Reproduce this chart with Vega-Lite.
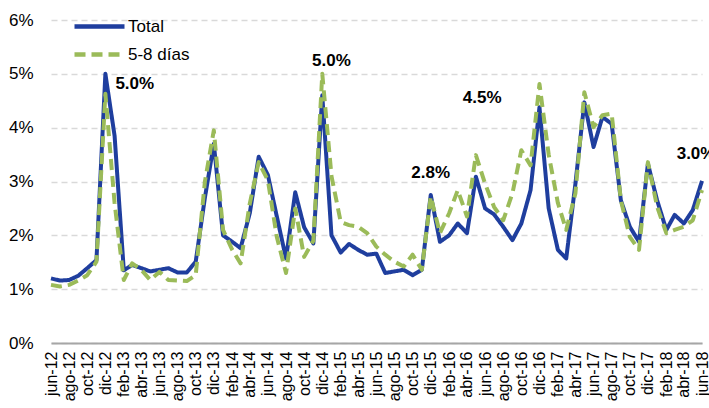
{
  "$schema": "https://vega.github.io/schema/vega-lite/v6.json",
  "autosize": {"type": "none"},
  "width": 651,
  "height": 323,
  "padding": {"left": 51, "top": 20, "right": 7, "bottom": 65},
  "background": "white",
  "config": {
    "font": "Liberation Sans",
    "view": {"stroke": null},
    "axis": {"labelFont": "Liberation Sans", "labelColor": "#000000"},
    "axisX": {"labelOverlap": false, "labelSeparation": 0}
  },
  "datasets": {
    "series": [
      {"m":"2012-06-01","s":"Total","v":1.20},{"m":"2012-07-01","s":"Total","v":1.16},{"m":"2012-08-01","s":"Total","v":1.17},{"m":"2012-09-01","s":"Total","v":1.25},{"m":"2012-10-01","s":"Total","v":1.39},{"m":"2012-11-01","s":"Total","v":1.54},{"m":"2012-12-01","s":"Total","v":5.00},
      {"m":"2013-01-01","s":"Total","v":3.85},{"m":"2013-02-01","s":"Total","v":1.35},{"m":"2013-03-01","s":"Total","v":1.45},{"m":"2013-04-01","s":"Total","v":1.39},{"m":"2013-05-01","s":"Total","v":1.33},{"m":"2013-06-01","s":"Total","v":1.36},{"m":"2013-07-01","s":"Total","v":1.39},{"m":"2013-08-01","s":"Total","v":1.31},{"m":"2013-09-01","s":"Total","v":1.31},{"m":"2013-10-01","s":"Total","v":1.51},{"m":"2013-11-01","s":"Total","v":2.70},{"m":"2013-12-01","s":"Total","v":3.70},
      {"m":"2014-01-01","s":"Total","v":2.00},{"m":"2014-02-01","s":"Total","v":1.88},{"m":"2014-03-01","s":"Total","v":1.76},{"m":"2014-04-01","s":"Total","v":2.41},{"m":"2014-05-01","s":"Total","v":3.46},{"m":"2014-06-01","s":"Total","v":3.12},{"m":"2014-07-01","s":"Total","v":2.35},{"m":"2014-08-01","s":"Total","v":1.57},{"m":"2014-09-01","s":"Total","v":2.80},{"m":"2014-10-01","s":"Total","v":2.15},{"m":"2014-11-01","s":"Total","v":1.85},{"m":"2014-12-01","s":"Total","v":4.60},
      {"m":"2015-01-01","s":"Total","v":2.00},{"m":"2015-02-01","s":"Total","v":1.68},{"m":"2015-03-01","s":"Total","v":1.84},{"m":"2015-04-01","s":"Total","v":1.73},{"m":"2015-05-01","s":"Total","v":1.64},{"m":"2015-06-01","s":"Total","v":1.66},{"m":"2015-07-01","s":"Total","v":1.30},{"m":"2015-08-01","s":"Total","v":1.33},{"m":"2015-09-01","s":"Total","v":1.36},{"m":"2015-10-01","s":"Total","v":1.26},{"m":"2015-11-01","s":"Total","v":1.36},{"m":"2015-12-01","s":"Total","v":2.75},
      {"m":"2016-01-01","s":"Total","v":1.88},{"m":"2016-02-01","s":"Total","v":2.00},{"m":"2016-03-01","s":"Total","v":2.22},{"m":"2016-04-01","s":"Total","v":2.04},{"m":"2016-05-01","s":"Total","v":3.09},{"m":"2016-06-01","s":"Total","v":2.50},{"m":"2016-07-01","s":"Total","v":2.39},{"m":"2016-08-01","s":"Total","v":2.16},{"m":"2016-09-01","s":"Total","v":1.91},{"m":"2016-10-01","s":"Total","v":2.22},{"m":"2016-11-01","s":"Total","v":2.84},{"m":"2016-12-01","s":"Total","v":4.38},
      {"m":"2017-01-01","s":"Total","v":2.50},{"m":"2017-02-01","s":"Total","v":1.73},{"m":"2017-03-01","s":"Total","v":1.57},{"m":"2017-04-01","s":"Total","v":2.96},{"m":"2017-05-01","s":"Total","v":4.47},{"m":"2017-06-01","s":"Total","v":3.64},{"m":"2017-07-01","s":"Total","v":4.20},{"m":"2017-08-01","s":"Total","v":4.07},{"m":"2017-09-01","s":"Total","v":2.65},{"m":"2017-10-01","s":"Total","v":2.16},{"m":"2017-11-01","s":"Total","v":1.88},{"m":"2017-12-01","s":"Total","v":3.33},
      {"m":"2018-01-01","s":"Total","v":2.65},{"m":"2018-02-01","s":"Total","v":2.10},{"m":"2018-03-01","s":"Total","v":2.38},{"m":"2018-04-01","s":"Total","v":2.22},{"m":"2018-05-01","s":"Total","v":2.47},{"m":"2018-06-01","s":"Total","v":3.01},

      {"m":"2012-06-01","s":"5-8 días","v":1.08},{"m":"2012-07-01","s":"5-8 días","v":1.05},{"m":"2012-08-01","s":"5-8 días","v":1.08},{"m":"2012-09-01","s":"5-8 días","v":1.16},{"m":"2012-10-01","s":"5-8 días","v":1.26},{"m":"2012-11-01","s":"5-8 días","v":1.51},{"m":"2012-12-01","s":"5-8 días","v":4.63},
      {"m":"2013-01-01","s":"5-8 días","v":2.60},{"m":"2013-02-01","s":"5-8 días","v":1.17},{"m":"2013-03-01","s":"5-8 días","v":1.48},{"m":"2013-04-01","s":"5-8 días","v":1.36},{"m":"2013-05-01","s":"5-8 días","v":1.17},{"m":"2013-06-01","s":"5-8 días","v":1.32},{"m":"2013-07-01","s":"5-8 días","v":1.17},{"m":"2013-08-01","s":"5-8 días","v":1.16},{"m":"2013-09-01","s":"5-8 días","v":1.15},{"m":"2013-10-01","s":"5-8 días","v":1.26},{"m":"2013-11-01","s":"5-8 días","v":3.00},{"m":"2013-12-01","s":"5-8 días","v":3.95},
      {"m":"2014-01-01","s":"5-8 días","v":2.10},{"m":"2014-02-01","s":"5-8 días","v":1.73},{"m":"2014-03-01","s":"5-8 días","v":1.48},{"m":"2014-04-01","s":"5-8 días","v":2.59},{"m":"2014-05-01","s":"5-8 días","v":3.36},{"m":"2014-06-01","s":"5-8 días","v":3.02},{"m":"2014-07-01","s":"5-8 días","v":1.97},{"m":"2014-08-01","s":"5-8 días","v":1.30},{"m":"2014-09-01","s":"5-8 días","v":2.50},{"m":"2014-10-01","s":"5-8 días","v":1.60},{"m":"2014-11-01","s":"5-8 días","v":1.90},{"m":"2014-12-01","s":"5-8 días","v":5.00},
      {"m":"2015-01-01","s":"5-8 días","v":3.10},{"m":"2015-02-01","s":"5-8 días","v":2.25},{"m":"2015-03-01","s":"5-8 días","v":2.19},{"m":"2015-04-01","s":"5-8 días","v":2.16},{"m":"2015-05-01","s":"5-8 días","v":2.04},{"m":"2015-06-01","s":"5-8 días","v":1.79},{"m":"2015-07-01","s":"5-8 días","v":1.64},{"m":"2015-08-01","s":"5-8 días","v":1.51},{"m":"2015-09-01","s":"5-8 días","v":1.42},{"m":"2015-10-01","s":"5-8 días","v":1.64},{"m":"2015-11-01","s":"5-8 días","v":1.36},{"m":"2015-12-01","s":"5-8 días","v":2.72},
      {"m":"2016-01-01","s":"5-8 días","v":2.04},{"m":"2016-02-01","s":"5-8 días","v":2.41},{"m":"2016-03-01","s":"5-8 días","v":2.84},{"m":"2016-04-01","s":"5-8 días","v":2.35},{"m":"2016-05-01","s":"5-8 días","v":3.49},{"m":"2016-06-01","s":"5-8 días","v":2.96},{"m":"2016-07-01","s":"5-8 días","v":2.53},{"m":"2016-08-01","s":"5-8 días","v":2.28},{"m":"2016-09-01","s":"5-8 días","v":2.78},{"m":"2016-10-01","s":"5-8 días","v":3.58},{"m":"2016-11-01","s":"5-8 días","v":3.30},{"m":"2016-12-01","s":"5-8 días","v":4.81},
      {"m":"2017-01-01","s":"5-8 días","v":3.50},{"m":"2017-02-01","s":"5-8 días","v":2.60},{"m":"2017-03-01","s":"5-8 días","v":2.10},{"m":"2017-04-01","s":"5-8 días","v":2.78},{"m":"2017-05-01","s":"5-8 días","v":4.66},{"m":"2017-06-01","s":"5-8 días","v":4.01},{"m":"2017-07-01","s":"5-8 días","v":4.23},{"m":"2017-08-01","s":"5-8 días","v":4.26},{"m":"2017-09-01","s":"5-8 días","v":2.65},{"m":"2017-10-01","s":"5-8 días","v":1.97},{"m":"2017-11-01","s":"5-8 días","v":1.73},{"m":"2017-12-01","s":"5-8 días","v":3.36},
      {"m":"2018-01-01","s":"5-8 días","v":2.53},{"m":"2018-02-01","s":"5-8 días","v":2.04},{"m":"2018-03-01","s":"5-8 días","v":2.10},{"m":"2018-04-01","s":"5-8 días","v":2.16},{"m":"2018-05-01","s":"5-8 días","v":2.28},{"m":"2018-06-01","s":"5-8 días","v":2.84}
    ],
    "notes": [
      {"m":"2013-03-10","v":4.82,"label":"5.0%"},
      {"m":"2015-01-01","v":5.24,"label":"5.0%"},
      {"m":"2015-12-01","v":3.15,"label":"2.8%"},
      {"m":"2016-05-22","v":4.55,"label":"4.5%"},
      {"m":"2018-05-12","v":3.52,"label":"3.0%"}
    ]
  },
  "encoding": {
    "x": {
      "field": "m", "type": "temporal",
      "scale": {"type": "utc", "nice": false, "domain": [{"year": 2012, "month": 6, "date": 1, "utc": true}, {"year": 2018, "month": 6, "date": 1, "utc": true}]},
      "axis": {
        "title": null,
        "values": [
          {"year":2012,"month":6,"date":1,"utc":true},{"year":2012,"month":8,"date":1,"utc":true},{"year":2012,"month":10,"date":1,"utc":true},{"year":2012,"month":12,"date":1,"utc":true},
          {"year":2013,"month":2,"date":1,"utc":true},{"year":2013,"month":4,"date":1,"utc":true},{"year":2013,"month":6,"date":1,"utc":true},{"year":2013,"month":8,"date":1,"utc":true},{"year":2013,"month":10,"date":1,"utc":true},{"year":2013,"month":12,"date":1,"utc":true},
          {"year":2014,"month":2,"date":1,"utc":true},{"year":2014,"month":4,"date":1,"utc":true},{"year":2014,"month":6,"date":1,"utc":true},{"year":2014,"month":8,"date":1,"utc":true},{"year":2014,"month":10,"date":1,"utc":true},{"year":2014,"month":12,"date":1,"utc":true},
          {"year":2015,"month":2,"date":1,"utc":true},{"year":2015,"month":4,"date":1,"utc":true},{"year":2015,"month":6,"date":1,"utc":true},{"year":2015,"month":8,"date":1,"utc":true},{"year":2015,"month":10,"date":1,"utc":true},{"year":2015,"month":12,"date":1,"utc":true},
          {"year":2016,"month":2,"date":1,"utc":true},{"year":2016,"month":4,"date":1,"utc":true},{"year":2016,"month":6,"date":1,"utc":true},{"year":2016,"month":8,"date":1,"utc":true},{"year":2016,"month":10,"date":1,"utc":true},{"year":2016,"month":12,"date":1,"utc":true},
          {"year":2017,"month":2,"date":1,"utc":true},{"year":2017,"month":4,"date":1,"utc":true},{"year":2017,"month":6,"date":1,"utc":true},{"year":2017,"month":8,"date":1,"utc":true},{"year":2017,"month":10,"date":1,"utc":true},{"year":2017,"month":12,"date":1,"utc":true},
          {"year":2018,"month":2,"date":1,"utc":true},{"year":2018,"month":4,"date":1,"utc":true},{"year":2018,"month":6,"date":1,"utc":true}
        ],
        "labelExpr": "['ene','feb','mar','abr','may','jun','jul','ago','sep','oct','nov','dic'][utcmonth(datum.value)] + '-' + utcFormat(datum.value, '%y')",
        "labelAngle": -90, "labelAlign": "right", "labelBaseline": "middle",
        "labelFontSize": 16, "labelPadding": 8, "labelOverlap": false, "labelSeparation": 0, "labelFlush": false, "labelBound": false,
        "ticks": false, "grid": false,
        "domain": true, "domainColor": "#A6A6A6", "domainWidth": 2
      }
    },
    "y": {
      "field": "v", "type": "quantitative",
      "scale": {"domain": [0, 6], "nice": false, "zero": true},
      "axis": {
        "title": null, "values": [0,1,2,3,4,5,6],
        "labelExpr": "datum.value + '%'",
        "labelFontSize": 17, "labelPadding": 18,
        "ticks": false, "domain": false,
        "grid": true, "gridColor": "#D9D9D9", "gridDash": [6, 4], "gridWidth": 1.5
      }
    }
  },
  "layer": [
    {
      "data": {"name": "series"},
      "mark": {"type": "line", "strokeWidth": 4, "strokeCap": "butt", "strokeJoin": "round"},
      "encoding": {
        "color": {
          "field": "s", "type": "nominal",
          "scale": {"domain": ["Total", "5-8 días"], "range": ["#1F3E9E", "#9BBB59"]},
          "legend": {
            "title": null, "orient": "none", "legendX": 36, "legendY": -6,
            "symbolType": "M-2.5,0H2.5", "symbolSize": 400, "symbolStrokeWidth": 4.5,
            "labelFontSize": 17, "labelOffset": 16, "rowPadding": 6, "padding": 0,
            "labelColor": "#000000", "labelFont": "Liberation Sans"
          }
        },
        "strokeDash": {
          "field": "s", "type": "nominal",
          "scale": {"domain": ["Total", "5-8 días"], "range": [[1, 0], [11, 6]]},
          "legend": null
        },
        "order": {"field": "s", "sort": "descending"}
      }
    },
    {
      "data": {"name": "notes"},
      "mark": {"type": "text", "fontSize": 17, "fontWeight": "bold", "color": "#000000", "align": "center", "baseline": "middle"},
      "encoding": {
        "text": {"field": "label"}
      }
    }
  ]
}
